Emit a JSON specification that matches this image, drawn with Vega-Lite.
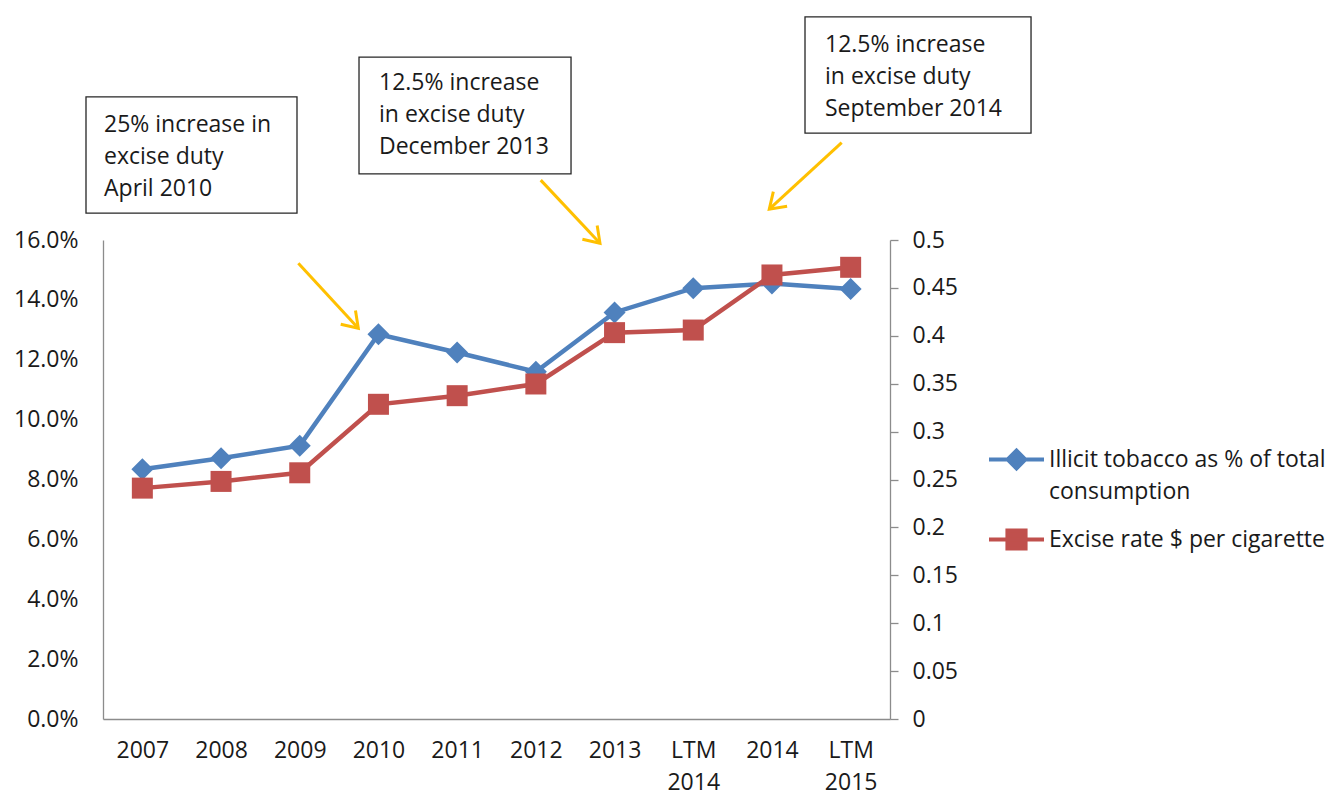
{
  "$schema": "https://vega.github.io/schema/vega-lite/v6.json",
  "width": 787,
  "height": 479,
  "autosize": {"type": "none"},
  "padding": {"left": 103, "top": 240, "right": 446, "bottom": 77},
  "background": "white",
  "config": {
    "view": {"stroke": null},
    "font": "Open Sans",
    "axis": {
      "labelFont": "Open Sans",
      "labelFontSize": 23,
      "labelColor": "#1a1a1a",
      "domainColor": "#8c8c8c",
      "domainWidth": 1.3,
      "tickColor": "#8c8c8c",
      "tickWidth": 1.3,
      "grid": false,
      "title": null
    },
    "legend": {
      "labelFont": "Open Sans",
      "labelFontSize": 23,
      "labelColor": "#1a1a1a"
    }
  },
  "datasets": {
    "notes": [
      {"x0": -0.716, "x1": 1.965, "y0": 0.2078, "y1": 0.1690, "tx": -0.487, "ty": 0.1984, "note": "25% increase in\nexcise duty\nApril 2010"},
      {"x0": 2.753, "x1": 5.447, "y0": 0.2211, "y1": 0.1821, "tx": 3.007, "ty": 0.2124, "note": "12.5% increase\nin excise duty\nDecember 2013"},
      {"x0": 8.420, "x1": 11.292, "y0": 0.2345, "y1": 0.1957, "tx": 8.674, "ty": 0.2251, "note": "12.5% increase\nin excise duty\nSeptember 2014"}
    ],
    "arrows": [
      {"xs": 1.982, "ys": 0.1522, "xe": 2.744, "ye": 0.1305},
      {"xs": 5.062, "ys": 0.1800, "xe": 5.815, "ye": 0.1589},
      {"xs": 8.886, "ys": 0.1925, "xe": 7.966, "ye": 0.1703}
    ]
  },
  "layer": [
    {
      "data": {
        "values": [
          {"period": "2007", "illicit": 0.0834, "excise": 0.241},
          {"period": "2008", "illicit": 0.0871, "excise": 0.248},
          {"period": "2009", "illicit": 0.0913, "excise": 0.257},
          {"period": "2010", "illicit": 0.1285, "excise": 0.3285},
          {"period": "2011", "illicit": 0.1224, "excise": 0.3375},
          {"period": "2012", "illicit": 0.116, "excise": 0.3497},
          {"period": "2013", "illicit": 0.1358, "excise": 0.4033},
          {"period": "LTM 2014", "illicit": 0.1439, "excise": 0.406},
          {"period": "2014", "illicit": 0.1455, "excise": 0.4635},
          {"period": "LTM 2015", "illicit": 0.1436, "excise": 0.4715}
        ]
      },
      "encoding": {
        "x": {
          "field": "period",
          "type": "ordinal",
          "sort": null,
          "scale": {"type": "point", "padding": 0.5},
          "axis": {
            "orient": "bottom",
            "ticks": false,
            "tickSize": 0,
            "labelAngle": 0,
            "labelPadding": 20,
            "labelLineHeight": 32,
            "labelExpr": "split(datum.label, ' ')"
          }
        }
      },
      "layer": [
        {
          "mark": {
            "type": "line",
            "strokeWidth": 4.5,
            "point": {"shape": "diamond", "size": 484, "filled": true, "opacity": 1}
          },
          "encoding": {
            "y": {
              "field": "illicit",
              "type": "quantitative",
              "scale": {"domain": [0, 0.16], "nice": false},
              "axis": {
                "orient": "left",
                "format": ".1%",
                "values": [0, 0.02, 0.04, 0.06, 0.08, 0.1, 0.12, 0.14, 0.16],
                "ticks": false,
                "tickSize": 0,
                "labelPadding": 25
              }
            },
            "color": {
              "datum": "Illicit tobacco as % of total consumption",
              "type": "nominal",
              "scale": {
                "domain": ["Illicit tobacco as % of total consumption", "Excise rate $ per cigarette"],
                "range": ["#4F81BD", "#C0504D"]
              },
              "legend": {
                "orient": "none",
                "legendX": 884,
                "legendY": 190,
                "title": null,
                "symbolSize": 3025,
                "symbolStrokeWidth": 4,
                "labelLimit": 500,
                "labelOffset": 3,
                "rowPadding": 6,
                "labelExpr": "datum.label == 'Illicit tobacco as % of total consumption' ? ['Illicit tobacco as % of total', 'consumption'] : datum.label",
                "encode": {
                  "labels": {
                    "update": {
                      "lineHeight": {"value": 32}
                    }
                  },
                  "symbols": {
                    "update": {
                      "shape": {"signal": "datum.value == 'Excise rate $ per cigarette' ? 'M-1,0H1M-0.33,-0.33H0.33V0.33H-0.33Z' : 'M-1,0H1M-0.32,0L0,-0.32L0.32,0L0,0.32Z'"},
                      "fill": {"signal": "scale('color', datum.value)"},
                      "stroke": {"signal": "scale('color', datum.value)"},
                      "opacity": {"value": 1}
                    }
                  }
                }
              }
            }
          }
        },
        {
          "mark": {
            "type": "line",
            "strokeWidth": 4.5,
            "point": {"shape": "square", "size": 441, "filled": true, "opacity": 1}
          },
          "encoding": {
            "y": {
              "field": "excise",
              "type": "quantitative",
              "scale": {"domain": [0, 0.5], "nice": false},
              "axis": {
                "orient": "right",
                "format": "~g",
                "values": [0, 0.05, 0.1, 0.15, 0.2, 0.25, 0.3, 0.35, 0.4, 0.45, 0.5],
                "tickSize": 8,
                "labelPadding": 14
              }
            },
            "color": {"datum": "Excise rate $ per cigarette", "type": "nominal"}
          }
        }
      ],
      "resolve": {"scale": {"y": "independent"}}
    },
    {
      "layer": [
        {
          "data": {"name": "notes"},
          "mark": {"type": "rect", "fill": "white", "stroke": "#262626", "strokeWidth": 1.3},
          "encoding": {
            "x": {"field": "x0", "type": "quantitative", "scale": {"domain": [-0.5, 9.5], "nice": false, "zero": false}, "axis": null},
            "x2": {"field": "x1"},
            "y": {"field": "y0", "type": "quantitative", "scale": {"domain": [0, 0.16], "nice": false}, "axis": null},
            "y2": {"field": "y1"}
          }
        },
        {
          "data": {"name": "notes"},
          "mark": {
            "type": "text",
            "align": "left",
            "baseline": "middle",
            "lineBreak": "\n",
            "lineHeight": 32,
            "fontSize": 23,
            "color": "#1a1a1a"
          },
          "encoding": {
            "x": {"field": "tx", "type": "quantitative", "scale": {"domain": [-0.5, 9.5], "nice": false, "zero": false}, "axis": null},
            "y": {"field": "ty", "type": "quantitative", "scale": {"domain": [0, 0.16], "nice": false}, "axis": null},
            "text": {"field": "note"}
          }
        },
        {
          "data": {"name": "arrows"},
          "mark": {"type": "rule", "color": "#FFC000", "strokeWidth": 3},
          "encoding": {
            "x": {"field": "xs", "type": "quantitative", "scale": {"domain": [-0.5, 9.5], "nice": false, "zero": false}, "axis": null},
            "x2": {"field": "xe"},
            "y": {"field": "ys", "type": "quantitative", "scale": {"domain": [0, 0.16], "nice": false}, "axis": null},
            "y2": {"field": "ye"}
          }
        },
        {
          "data": {"name": "arrows"},
          "transform": [{"filter": "datum.xe > datum.xs"}],
          "mark": {
            "type": "point",
            "shape": "M-0.56,0.83L0,0L0.56,0.83",
            "size": 1300,
            "filled": false,
            "stroke": "#FFC000",
            "strokeWidth": 3,
            "opacity": 1,
            "angle": 137
          },
          "encoding": {
            "x": {"field": "xe", "type": "quantitative", "scale": {"domain": [-0.5, 9.5], "nice": false, "zero": false}, "axis": null},
            "y": {"field": "ye", "type": "quantitative", "scale": {"domain": [0, 0.16], "nice": false}, "axis": null}
          }
        },
        {
          "data": {"name": "arrows"},
          "transform": [{"filter": "datum.xe < datum.xs"}],
          "mark": {
            "type": "point",
            "shape": "M-0.56,0.83L0,0L0.56,0.83",
            "size": 1300,
            "filled": false,
            "stroke": "#FFC000",
            "strokeWidth": 3,
            "opacity": 1,
            "angle": 227
          },
          "encoding": {
            "x": {"field": "xe", "type": "quantitative", "scale": {"domain": [-0.5, 9.5], "nice": false, "zero": false}, "axis": null},
            "y": {"field": "ye", "type": "quantitative", "scale": {"domain": [0, 0.16], "nice": false}, "axis": null}
          }
        }
      ]
    }
  ],
  "resolve": {"scale": {"x": "independent", "y": "independent"}}
}
